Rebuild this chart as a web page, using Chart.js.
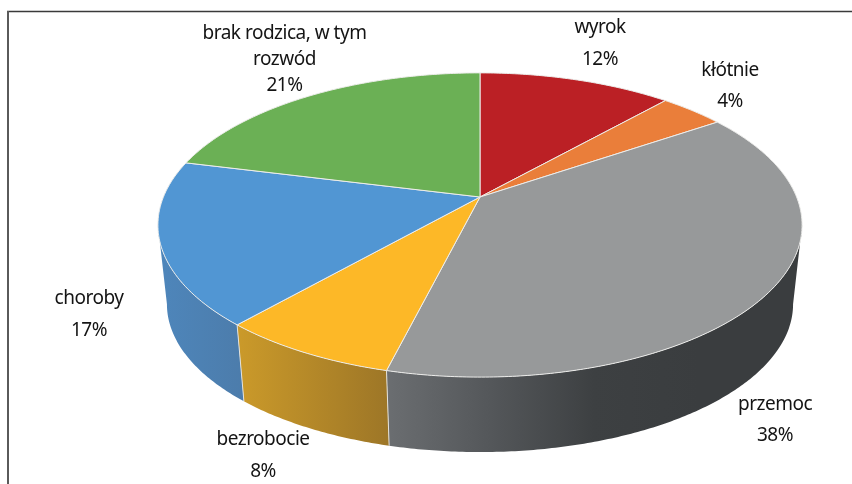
<!DOCTYPE html>
<html lang="pl">
<head>
<meta charset="utf-8">
<title>Wykres</title>
<script src="https://cdn.jsdelivr.net/npm/chart.js@4"></script>
<style>html,body{margin:0;padding:0;background:#fff}canvas{display:block}</style>
</head>
<body>
<canvas id="c" width="852" height="484"></canvas>
<script>
const categories = ['wyrok', 'kłótnie', 'przemoc', 'bezrobocie', 'choroby', 'brak rodzica, w tym rozwód'];
const shares = [11.6, 3.9, 38.4, 7.6, 17.4, 21.1];
const topColors = ['#bb2025', '#ea7e3a', '#97999a', '#fdb827', '#5196d3', '#6bb055'];
const sideStops = [
  ['#8c181b', '#8c181b'],
  ['#b05f2c', '#b05f2c'],
  ['#6b6e71', '#54575a', '#3d4042', '#3a3d3f', '#3a3d3f'],
  ['#cb9a2a', '#9d7627'],
  ['#4e86bb', '#4c7cab'],
  ['#50843f', '#50843f']
];
const labelLines = [['wyrok'], ['kłótnie'], ['przemoc'], ['bezrobocie'], ['choroby'], ['brak rodzica, w tym', 'rozwód']];

const layoutAnchors = [
  {x: 600, y: 28, gap: 32}, {x: 730, y: 71, gap: 31}, {x: 775, y: 405, gap: 31},
  {x: 263, y: 440, gap: 32}, {x: 89, y: 299, gap: 32}, {x: 284.5, y: 34, gap: 26}
];

// perspective of the disc, relative to the library's pie radius
const K = 0.184, AY = 0.746, BX = 1.607, SIDE_SCALE = 0.972, SIDE_DROP = 80;

function project(el, a, lower) {
  const u = Math.cos(a), v = Math.sin(a), d = 1 - K * v;
  const s = lower ? SIDE_SCALE : 1;
  return {
    x: el.x + s * BX * el.outerRadius * u / d,
    y: el.y + (lower ? SIDE_DROP : 0) + s * AY * el.outerRadius * v / d
  };
}
function arcAngles(a0, a1) {
  const n = Math.max(2, Math.ceil((a1 - a0) / 0.01)), r = [];
  for (let i = 0; i <= n; i++) r.push(a0 + (a1 - a0) * i / n);
  return r;
}

const pie3d = {
  id: 'pie3d',
  beforeDatasetDraw(chart) {
    const ctx = chart.ctx, els = chart.getDatasetMeta(0).data;
    const lo = Math.asin(K), hi = Math.PI - lo;
    ctx.save();
    // side wall
    els.forEach((el, i) => {
      const a0 = Math.max(el.startAngle, lo), a1 = Math.min(el.endAngle, hi);
      if (a1 <= a0) return;
      const ang = arcAngles(a0, a1);
      const up = ang.map(a => project(el, a, false));
      const dn = ang.map(a => project(el, a, true)).reverse();
      const pts = up.concat(dn), xs = pts.map(p => p.x);
      const g = ctx.createLinearGradient(Math.min(...xs), 0, Math.max(...xs), 0);
      sideStops[i].forEach((c, j, arr) => g.addColorStop(j / (arr.length - 1), c));
      ctx.beginPath();
      pts.forEach((p, j) => j ? ctx.lineTo(p.x, p.y) : ctx.moveTo(p.x, p.y));
      ctx.closePath();
      ctx.fillStyle = g;
      ctx.fill();
    });
    // light seams between wall panels
    ctx.strokeStyle = '#e4e2dc';
    ctx.lineWidth = 1;
    els.forEach(el => {
      if (el.endAngle <= lo || el.endAngle >= hi) return;
      const p = project(el, el.endAngle, false), q = project(el, el.endAngle, true);
      ctx.beginPath(); ctx.moveTo(p.x, p.y); ctx.lineTo(q.x, q.y); ctx.stroke();
    });
    // top face
    els.forEach((el, i) => {
      ctx.beginPath();
      ctx.moveTo(el.x, el.y);
      arcAngles(el.startAngle, el.endAngle).forEach(a => {
        const p = project(el, a, false);
        ctx.lineTo(p.x, p.y);
      });
      ctx.closePath();
      ctx.fillStyle = el.options.backgroundColor;
      ctx.fill();
      ctx.strokeStyle = '#ececea';
      ctx.lineWidth = 1;
      ctx.stroke();
    });
    ctx.restore();
    return false;
  },
  afterDraw(chart) {
    const ctx = chart.ctx;
    ctx.save();
    // frame
    ctx.strokeStyle = '#3a3a3a';
    ctx.lineWidth = 1.5;
    ctx.beginPath(); ctx.moveTo(7, 11.5); ctx.lineTo(852, 11.5); ctx.stroke();
    ctx.strokeStyle = '#5a5a5a';
    ctx.lineWidth = 2;
    ctx.beginPath(); ctx.moveTo(8, 11); ctx.lineTo(8, 484); ctx.stroke();
    // labels
    ctx.fillStyle = '#141414';
    ctx.font = '19px "Noto Sans"';
    ctx.letterSpacing = '-0.5px';
    ctx.textAlign = 'center';
    ctx.textBaseline = 'middle';
    labelLines.forEach((lines, i) => {
      const a = layoutAnchors[i];
      const rows = lines.concat([Math.round(shares[i]) + '%']);
      rows.forEach((t, j) => ctx.fillText(t, a.x, a.y + j * a.gap));
    });
    ctx.restore();
  }
};

new Chart(document.getElementById('c'), {
  type: 'pie',
  data: {
    labels: categories,
    datasets: [{ data: shares, backgroundColor: topColors, borderWidth: 0 }]
  },
  options: {
    responsive: false,
    animation: false,
    layout: { padding: { left: 108, right: 0, top: 0, bottom: 90 } },
    plugins: { legend: { display: false }, tooltip: { enabled: false } }
  },
  plugins: [pie3d]
});
</script>
</body>
</html>
